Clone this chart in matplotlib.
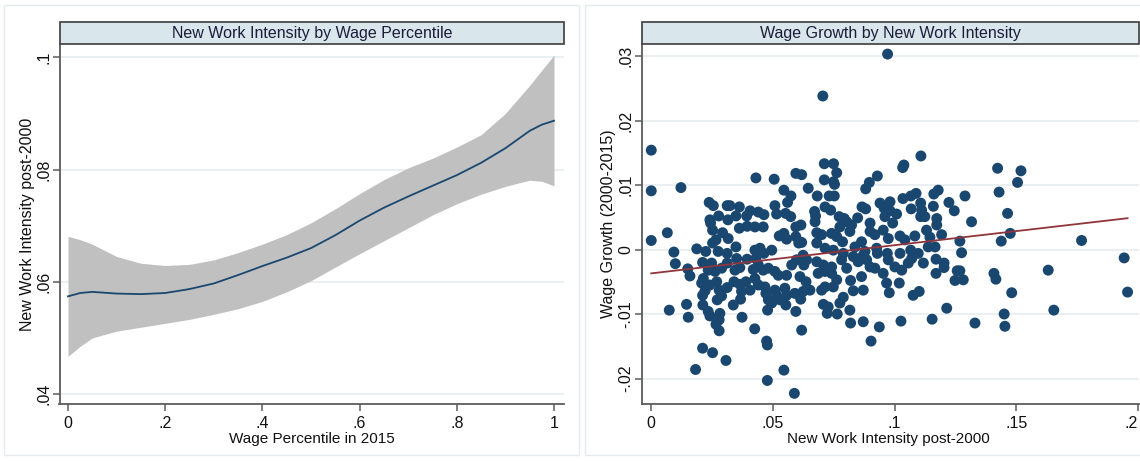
import numpy as np
import matplotlib
matplotlib.use('Agg')
import matplotlib.pyplot as plt
from matplotlib.patches import Rectangle

plt.rcParams['font.family'] = ['Liberation Sans', 'DejaVu Sans']

# ---------------- data: left panel (smoothed fit with CI) ----------------
wage_pct = [0.0, 0.025, 0.05, 0.1, 0.15, 0.2, 0.25, 0.3, 0.35, 0.4, 0.45, 0.5,
            0.55, 0.6, 0.65, 0.7, 0.75, 0.8, 0.85, 0.9, 0.95, 0.975, 1.0]
nwi_fit = [0.0574, 0.0580, 0.0582, 0.0579, 0.0578, 0.0580, 0.0587, 0.0597, 0.0612,
           0.0628, 0.0643, 0.0660, 0.0683, 0.0709, 0.0732, 0.0752, 0.0771, 0.0790,
           0.0812, 0.0838, 0.0869, 0.0880, 0.0887]
nwi_upper = [0.0681, 0.0675, 0.0667, 0.0645, 0.0633, 0.0629, 0.0631, 0.0639, 0.0652,
             0.0667, 0.0684, 0.0705, 0.0730, 0.0757, 0.0782, 0.0803, 0.0820, 0.0840,
             0.0862, 0.0900, 0.0950, 0.0977, 0.1004]
nwi_lower = [0.0467, 0.0485, 0.0500, 0.0512, 0.0519, 0.0526, 0.0533, 0.0542, 0.0552,
             0.0565, 0.0582, 0.0602, 0.0626, 0.0650, 0.0673, 0.0696, 0.0719, 0.0739,
             0.0756, 0.0770, 0.0781, 0.0779, 0.0771]

# ---------------- data: right panel (scatter) ----------------
new_work = [
    0.0000, 0.0000, 0.0122, 0.0238, 0.0255, 0.0312, 0.0323, 0.0362, 0.0277, 0.0315,
    0.0241, 0.0348, 0.0392, 0.0406, 0.0430, 0.0440, 0.0463, 0.0505, 0.0508, 0.0515,
    0.0545, 0.0574, 0.0560, 0.0594, 0.0618, 0.0645, 0.0552, 0.0573,
    0.0971, 0.0705, 0.1108, 0.0711, 0.0749, 0.0762, 0.1033, 0.1038, 0.0711, 0.0749,
    0.0753, 0.0929, 0.0896, 0.0881, 0.0682, 0.0731, 0.0752, 0.0714, 0.0737, 0.0671,
    0.0675, 0.0772, 0.0793, 0.0848, 0.0866, 0.0881, 0.0940, 0.0981, 0.0957, 0.0981,
    0.1008, 0.0960, 0.1034, 0.1067, 0.1088, 0.1068, 0.1107, 0.1111, 0.1107, 0.1161,
    0.1179, 0.1159, 0.1223, 0.1245, 0.1289, 0.1173, 0.1124,
    0.1423, 0.1519, 0.1505, 0.1429, 0.1464, 0.1316, 0.1268, 0.1438, 0.1475, 0.1275,
    0.1768, 0.1943, 0.1268, 0.1282, 0.1408, 0.1416, 0.1631, 0.1481, 0.1957, 0.1654,
    0.1450, 0.1330, 0.1453,
    0.0000, 0.0066, 0.0093, 0.0099, 0.0150, 0.0159, 0.0074, 0.0145, 0.0152, 0.0187,
    0.0211, 0.0224, 0.0244, 0.0252, 0.0293, 0.0316, 0.0252, 0.0266, 0.0275, 0.0312,
    0.0348, 0.0362, 0.0394, 0.0426, 0.0460, 0.0594, 0.0615, 0.0526, 0.0545, 0.0556,
    0.0594, 0.0606, 0.0618, 0.0426, 0.0447, 0.0463, 0.0495, 0.0394, 0.0430, 0.0351,
    0.0312, 0.0289, 0.0248, 0.0234, 0.0262, 0.0214, 0.0207, 0.0241, 0.0221, 0.0211,
    0.0269, 0.0279, 0.0289, 0.0271, 0.0312, 0.0344, 0.0364, 0.0340, 0.0364, 0.0389,
    0.0419, 0.0440, 0.0460, 0.0481, 0.0508, 0.0522, 0.0556, 0.0577, 0.0597, 0.0624,
    0.0627, 0.0611, 0.0636, 0.0624, 0.0614, 0.0426, 0.0406, 0.0371, 0.0367, 0.0337,
    0.0440, 0.0467, 0.0471, 0.0481, 0.0495, 0.0478, 0.0508, 0.0515, 0.0529, 0.0549,
    0.0556, 0.0553, 0.0590, 0.0594, 0.0212, 0.0234, 0.0241, 0.0282, 0.0279, 0.0266,
    0.0279, 0.0373, 0.0425, 0.0618, 0.0474, 0.0477, 0.0211, 0.0252, 0.0307, 0.0182,
    0.0545, 0.0477, 0.0588,
    0.0673, 0.0803, 0.0823, 0.0775, 0.1173, 0.0680, 0.0700, 0.0741, 0.0762, 0.0786,
    0.0816, 0.0864, 0.0899, 0.0899, 0.0919, 0.0953, 0.0974, 0.0992, 0.1022, 0.1042,
    0.1083, 0.1131, 0.1145, 0.1166, 0.1193, 0.0680, 0.0714, 0.0748, 0.0789, 0.0837,
    0.0878, 0.0926, 0.0929, 0.0970, 0.1022, 0.1066, 0.1097, 0.1138, 0.0638, 0.0680,
    0.0707, 0.0741, 0.0782, 0.0803, 0.0830, 0.0850, 0.0871, 0.0885, 0.0899, 0.0919,
    0.0974, 0.1001, 0.1029, 0.1056, 0.1070, 0.1118, 0.1170, 0.1203, 0.1203, 0.1257,
    0.0652, 0.0686, 0.0714, 0.0741, 0.0762, 0.0748, 0.0714, 0.0700, 0.0819, 0.0830,
    0.0864, 0.0871, 0.0953, 0.0967, 0.0978, 0.1019, 0.1076, 0.1101, 0.1170, 0.1248,
    0.0707, 0.0727, 0.0723, 0.0764, 0.0775, 0.0789, 0.0816, 0.0819, 0.0871, 0.0937,
    0.0903, 0.1026, 0.1154, 0.1214,
]
wage_growth = [
    0.0154, 0.0091, 0.0096, 0.0073, 0.0068, 0.0068, 0.0068, 0.0066, 0.0052, 0.0046,
    0.0046, 0.0052, 0.0052, 0.0060, 0.0111, 0.0058, 0.0054, 0.0109, 0.0068, 0.0055,
    0.0092, 0.0083, 0.0073, 0.0118, 0.0116, 0.0095, 0.0056, 0.0051,
    0.0303, 0.0238, 0.0145, 0.0133, 0.0133, 0.0119, 0.0127, 0.0131, 0.0108, 0.0105,
    0.0101, 0.0114, 0.0104, 0.0094, 0.0083, 0.0083, 0.0083, 0.0066, 0.0061, 0.0059,
    0.0052, 0.0051, 0.0048, 0.0049, 0.0066, 0.0063, 0.0072, 0.0074, 0.0064, 0.0060,
    0.0055, 0.0051, 0.0079, 0.0083, 0.0087, 0.0063, 0.0072, 0.0061, 0.0051, 0.0086,
    0.0092, 0.0067, 0.0073, 0.0060, 0.0083, 0.0048, 0.0051,
    0.0126, 0.0122, 0.0104, 0.0089, 0.0056, 0.0043, 0.0013, 0.0013, 0.0025, -0.0005,
    0.0014, -0.0013, -0.0033, -0.0047, -0.0037, -0.0046, -0.0032, -0.0067, -0.0066, -0.0094,
    -0.0100, -0.0114, -0.0119,
    0.0014, 0.0026, -0.0004, -0.0022, -0.0030, -0.0041, -0.0094, -0.0085, -0.0105, 0.0001,
    -0.0020, -0.0003, 0.0041, 0.0030, 0.0026, 0.0017, 0.0010, 0.0015, -0.0003, -0.0006,
    0.0004, 0.0033, 0.0036, 0.0035, 0.0035, 0.0035, 0.0038, 0.0021, 0.0025, 0.0016,
    0.0020, 0.0010, 0.0011, -0.0001, 0.0002, -0.0006, -0.0001, -0.0015, -0.0014, -0.0014,
    -0.0021, -0.0029, -0.0021, -0.0032, -0.0034, -0.0045, -0.0052, -0.0055, -0.0064, -0.0071,
    -0.0050, -0.0063, -0.0072, -0.0078, -0.0059, -0.0032, -0.0028, -0.0050, -0.0054, -0.0050,
    -0.0031, -0.0024, -0.0032, -0.0029, -0.0034, -0.0040, -0.0040, -0.0024, -0.0016, -0.0009,
    -0.0024, -0.0042, -0.0050, -0.0065, -0.0077, -0.0045, -0.0063, -0.0065, -0.0077, -0.0086,
    -0.0055, -0.0058, -0.0068, -0.0078, -0.0083, -0.0094, -0.0063, -0.0071, -0.0078, -0.0060,
    -0.0071, -0.0086, -0.0068, -0.0096, -0.0086, -0.0096, -0.0103, -0.0099, -0.0109, -0.0116,
    -0.0126, -0.0105, -0.0123, -0.0125, -0.0142, -0.0148, -0.0153, -0.0160, -0.0172, -0.0186,
    -0.0187, -0.0203, -0.0223,
    0.0043, 0.0043, 0.0038, 0.0035, 0.0038, 0.0026, 0.0023, 0.0025, 0.0020, 0.0012,
    0.0028, 0.0012, 0.0041, 0.0028, 0.0023, 0.0030, 0.0017, 0.0041, 0.0021, 0.0015,
    0.0021, 0.0030, 0.0019, 0.0004, 0.0023, 0.0010, 0.0002, -0.0001, -0.0006, 0.0004,
    -0.0003, 0.0002, -0.0006, -0.0006, -0.0006, -0.0001, -0.0006, 0.0004, -0.0016, -0.0019,
    -0.0024, -0.0027, -0.0016, -0.0029, -0.0011, -0.0019, -0.0009, -0.0016, -0.0027, -0.0029,
    -0.0016, -0.0027, -0.0032, -0.0021, -0.0014, -0.0021, -0.0015, -0.0021, -0.0028, -0.0033,
    -0.0063, -0.0037, -0.0034, -0.0037, -0.0047, -0.0058, -0.0058, -0.0063, -0.0048, -0.0064,
    -0.0042, -0.0063, -0.0037, -0.0052, -0.0067, -0.0052, -0.0071, -0.0065, -0.0037, -0.0048,
    -0.0085, -0.0089, -0.0099, -0.0100, -0.0083, -0.0074, -0.0094, -0.0114, -0.0112, -0.0120,
    -0.0142, -0.0111, -0.0108, -0.0091,
]
fit_intercept = -0.0037
fit_slope = 0.0437

left_xticks = [0, 0.2, 0.4, 0.6, 0.8, 1.0]
left_xticklabels = ['0', '.2', '.4', '.6', '.8', '1']
left_yticks = [0.04, 0.06, 0.08, 0.10]
left_yticklabels = ['.04', '.06', '.08', '.1']
right_xticks = [0, 0.05, 0.10, 0.15, 0.20]
right_xticklabels = ['0', '.05', '.1', '.15', '.2']
right_yticks = [-0.02, -0.01, 0.0, 0.01, 0.02, 0.03]
right_yticklabels = ['-.02', '-.01', '0', '.01', '.02', '.03']

# ---------------- figure ----------------
W, H = 1140, 461
fig = plt.figure(figsize=(W / 100, H / 100), dpi=100)
fig.patch.set_facecolor('white')


def fx(px):
    return px / W


def fy(py):
    return 1 - py / H


def rect(x0, y0, x1, y1, **kw):
    r = Rectangle((fx(x0), fy(y1)), fx(x1) - fx(x0), fy(y0) - fy(y1),
                  transform=fig.transFigure, **kw)
    fig.patches.append(r)


# outer graph-region frames
rect(4, 5, 579, 455, fill=False, ec='#e4ecef', lw=1.0)
rect(585, 5, 1150, 455, fill=False, ec='#e4ecef', lw=1.0)

NAVY = '#1a476f'
GRID = '#e6eef0'
SPINE = '#5c5c5c'
TXT = '#111111'
FSX = 11
FSY = 11.5


def style_axes(ax):
    for s in ['top', 'right']:
        ax.spines[s].set_visible(False)
    for s in ['left', 'bottom']:
        ax.spines[s].set_color(SPINE)
        ax.spines[s].set_linewidth(1.3)
    ax.tick_params(axis='both', colors=SPINE, length=5, width=1.1,
                   labelcolor=TXT, labelsize=11.5)
    ax.tick_params(axis='y', pad=1)
    ax.yaxis.grid(True, color=GRID, lw=1.2, zorder=0)
    ax.set_axisbelow(True)


def title_box(x0, x1, text):
    rect(x0, 22, x1, 44, fc='#d9e6eb', ec='#3c3c3c', lw=1.2)
    fig.text(fx((x0 + x1) / 2), fy(33.5), text, ha='center', va='center',
             fontsize=11.5, color='#1c1c3a')


# ---- left panel ----
L0, L1 = 59.5, 564
ax1 = fig.add_axes([fx(L0), fy(404), fx(L1) - fx(L0), fy(44) - fy(404)])
style_axes(ax1)
ax1.fill_between(wage_pct, nwi_lower, nwi_upper, color='#c0c0c0', lw=0, zorder=2)
ax1.plot(wage_pct, nwi_fit, color=NAVY, lw=1.3, zorder=3)
ax1.set_xlim(-0.0175, 1.0206)
ax1.set_ylim(0.03822, 0.10237)
ax1.set_xticks(left_xticks)
ax1.set_xticklabels(left_xticklabels)
ax1.set_yticks(left_yticks)
ax1.set_yticklabels(left_yticklabels, rotation=90, va='center')
ax1.set_xlabel('Wage Percentile in 2015', fontsize=FSX, color=TXT)
ax1.xaxis.set_label_coords(0.5, (404 - 432) / 360.0)
ax1.set_ylabel('New Work Intensity post-2000', fontsize=FSY, color=TXT)
ax1.yaxis.set_label_coords((35 - L0) / (L1 - L0), 0.5)
title_box(L0, L1, 'New Work Intensity by Wage Percentile')

# ---- right panel ----
R0, R1 = 642, 1139
ax2 = fig.add_axes([fx(R0), fy(404), fx(R1) - fx(R0), fy(44) - fy(404)])
style_axes(ax2)
ax2.scatter(new_work, wage_growth, s=62, color=NAVY, edgecolors='none', zorder=3)
xfit = np.array([min(new_work), max(new_work)])
ax2.plot(xfit, fit_intercept + fit_slope * xfit, color='#90353b', lw=1.3, zorder=4)
ax2.set_xlim(-0.0038, 0.2004)
ax2.set_ylim(-0.02395, 0.03186)
ax2.set_xticks(right_xticks)
ax2.set_xticklabels(right_xticklabels)
ax2.get_xticklabels()[-1].set_horizontalalignment('right')
ax2.set_yticks(right_yticks)
ax2.set_yticklabels(right_yticklabels, rotation=90, va='center')
ax2.set_xlabel('New Work Intensity post-2000', fontsize=FSX, color=TXT)
ax2.xaxis.set_label_coords((888 - R0) / (R1 - R0), (404 - 432) / 360.0)
ax2.set_ylabel('Wage Growth (2000-2015)', fontsize=FSY, color=TXT)
ax2.yaxis.set_label_coords((616 - R0) / (R1 - R0), 0.5)
title_box(R0, R1, 'Wage Growth by New Work Intensity')

fig.savefig('out.png', dpi=100)
